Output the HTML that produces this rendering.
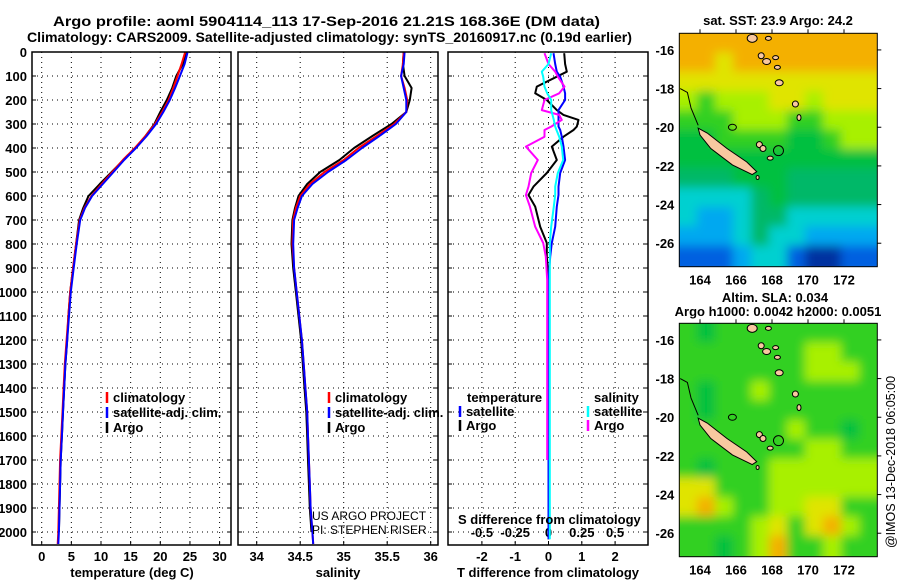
<!DOCTYPE html>
<html><head><meta charset="utf-8">
<style>
html,body{margin:0;padding:0;background:#fff;}
svg{display:block;font-family:"Liberation Sans",sans-serif;}
.b{font-weight:bold;font-size:13px;fill:#000;}
.t{font-weight:bold;font-size:14px;fill:#000;}
</style></head>
<body>
<svg id="chart" width="900" height="580" viewBox="0 0 900 580" xmlns="http://www.w3.org/2000/svg">
<defs><filter id="blur" x="-5%" y="-5%" width="110%" height="110%"><feGaussianBlur stdDeviation="5"/></filter></defs>
<text class="t" x="53" y="26" textLength="547" lengthAdjust="spacingAndGlyphs">Argo profile: aoml 5904114_113 17-Sep-2016 21.21S 168.36E (DM data)</text>
<text class="t" x="27" y="42" textLength="605" lengthAdjust="spacingAndGlyphs">Climatology: CARS2009. Satellite-adjusted climatology: synTS_20160917.nc (0.19d earlier)</text>
<g id="g"></g>
</svg>
<script>
const depths=[0,50,100,150,200,250,300,350,400,450,500,550,600,650,700,800,900,1000,1100,1200,1300,1400,1500,1600,1700,1800,1900,2000,2050];
const tArgo=[24.4,23.8,22.7,22.0,21.1,20.0,19.0,17.5,15.8,13.8,11.8,9.8,7.9,7.0,6.3,5.8,5.3,4.8,4.5,4.3,4.0,3.8,3.6,3.4,3.2,3.1,3.0,2.9,2.8];
const tClim=[24.2,23.6,22.9,22.2,21.4,20.3,19.1,17.5,15.7,13.7,11.9,10.1,8.4,7.2,6.4,5.8,5.3,4.8,4.5,4.2,3.9,3.7,3.5,3.3,3.1,3.0,2.9,2.8,2.7];
const tSat=[24.6,24.1,23.3,22.5,21.6,20.5,19.3,17.7,15.9,13.9,12.1,10.3,8.5,7.3,6.5,5.9,5.4,4.9,4.6,4.3,4.0,3.8,3.6,3.4,3.2,3.1,3.0,2.9,2.8];
const sArgo=[35.69,35.68,35.70,35.78,35.76,35.72,35.55,35.33,35.12,34.95,34.73,34.58,34.48,34.44,34.41,34.40,34.42,34.45,34.48,34.51,34.53,34.55,34.57,34.58,34.59,34.60,34.61,34.63,34.64];
const sClim=[35.69,35.68,35.66,35.70,35.73,35.72,35.58,35.38,35.17,35.00,34.78,34.61,34.50,34.45,34.42,34.41,34.43,34.46,34.49,34.52,34.54,34.56,34.58,34.59,34.60,34.61,34.62,34.64,34.65];
const sSat=[35.70,35.69,35.66,35.69,35.72,35.72,35.60,35.41,35.21,35.03,34.82,34.64,34.52,34.47,34.43,34.42,34.43,34.46,34.49,34.52,34.54,34.56,34.58,34.59,34.60,34.61,34.62,34.64,34.65];
const diffDepths=[5,50,82,103,144,172,200,242,262,283,311,325,353,394,450,504,561,596,644,728,796,853,950,1100,1300,1500,1700,1900,2030];
const dTArgo=[0.47,0.5,0.55,0.25,-0.35,-0.4,-0.05,0.25,0.45,0.9,0.85,0.75,0.45,0.1,0.25,-0.05,-0.45,-0.6,-0.4,-0.25,-0.05,-0.05,0,0,0,-0.02,0,0,0];
const dTSat=[0.15,0.2,0.25,0.35,0.45,0.5,0.5,0.3,0.3,0.3,0.3,0.35,0.4,0.45,0.5,0.35,0.3,0.3,0.25,0.2,0.1,0.05,0,0,0,0,0,0,0];
const dSArgo=[-0.03,0,0.05,0.07,0.12,0.08,-0.03,-0.05,0.08,0.1,0.02,-0.03,-0.03,-0.17,-0.08,-0.13,-0.15,-0.17,-0.14,-0.1,-0.04,-0.02,-0.01,-0.01,-0.01,-0.01,-0.01,null,null];
const dSSat=[0.02,0,-0.05,-0.04,-0.03,-0.01,0.02,0.02,0.03,0.04,0.05,0.06,0.08,0.1,0.11,0.07,0.05,0.05,0.04,0.02,0.01,0.01,0.01,0.01,0.01,0.01,0.01,0.01,0.01];
const depthTicks=[0,100,200,300,400,500,600,700,800,900,1000,1100,1200,1300,1400,1500,1600,1700,1800,1900,2000];
const tempTicks=[0,5,10,15,20,25,30];
const salTicks=[34,34.5,35,35.5,36];
const salTickLabels=["34","34.5","35","35.5","36"];
const tdTicks=[-2,-1,0,1,2];
const sdTicks=[-0.5,-0.25,0,0.25,0.5];
const sdTickLabels=["-0.5","-0.25","0","0.25","0.5"];
const lonTicks=[164,166,168,170,172];
const latTicks=[-16,-18,-20,-22,-24,-26];
const sstGrid=[
[9,9,9,9,9,9,9,9,9,9,9],
[9,9,8,9,9,9,9,9,9,9,9],
[8,8,8,8,8,8,8,8,8,8,8],
[7,6,7,7,7,8,8,7,8,8,8],
[6,6,6,7,7,7,6,6,7,7,7],
[5,5,6,6,6,6,5,5,6,7,7],
[5,5,5,5,5,5,5,5,5,5,5],
[4,4,4,5,5,5,4,4,4,4,4],
[3,3,3,3,4,5,4,4,4,4,4],
[3,2,2,3,4,4,3,3,3,3,3],
[2,2,2,3,4,3,3,2,2,2,2],
[1,1,1,2,3,3,1,0,0,1,1]];
const slaGrid=[
[6,5,6,6,6,6,6,6,6,6,6],
[6,6,6,6,6,6,6,7,7,6,6],
[6,6,6,6,6,6,6,7,7,7,6],
[6,5,6,6,7,6,6,6,6,6,6],
[6,5,6,6,6,6,6,6,6,6,6],
[6,6,6,6,6,6,7,6,6,5,6],
[6,6,6,6,6,6,6,7,7,6,6],
[6,5,6,6,6,7,7,7,7,7,7],
[8,8,6,6,6,7,7,7,7,7,7],
[8,9,7,6,6,7,7,8,8,6,6],
[6,6,6,6,7,8,6,8,9,7,6],
[6,6,5,6,7,9,6,6,7,6,6]];

const palette=["#0030a0","#0060e0","#00a8f0","#00d0d0","#00b868","#00c040","#30d020","#a8f000","#e0e400","#f4b000"];
const NS="http://www.w3.org/2000/svg";
const G=document.getElementById('g');
function mk(tag,at,parent){const e=document.createElementNS(NS,tag);for(const k in at)e.setAttribute(k,at[k]);(parent||G).appendChild(e);return e;}
function txt(s,x,y,at,parent){const e=mk('text',Object.assign({x:x,y:y},at),parent);e.textContent=s;return e;}
const yTop=52,pxPer100=24,yBot=545;
const yD=d=>yTop+d*pxPer100/100;
const xT=v=>41.7+v*5.93;
const xS=v=>256.7+(v-34)*87;
const xTD=v=>548.5+v*33.3;
const xSD=v=>548.5+v*133.2;
const panels=[{x0:32,x1:231,name:'temperature-panel'},{x0:238,x1:438,name:'salinity-panel'},{x0:448,x1:648,name:'difference-panel'}];

panels.forEach((p,i)=>{
  const g=mk('g',{});
  
  
  depthTicks.forEach(d=>{const l=mk('line',{x1:p.x0,x2:p.x1,y1:yD(d),y2:yD(d),stroke:'#000','stroke-width':1,'stroke-dasharray':'1,4'},g);
    
    mk('line',{x1:p.x0,x2:p.x0+4,y1:yD(d),y2:yD(d),stroke:'#000'},g);
    mk('line',{x1:p.x1-4,x2:p.x1,y1:yD(d),y2:yD(d),stroke:'#000'},g);});
  p.g=g;
});
depthTicks.forEach(d=>{const t=txt(String(d),27,yD(d)+5,{class:'b','text-anchor':'end'});
  });
function vgrid(p,ticks,fx,labels,ylab){
  ticks.forEach((v,k)=>{const x=fx(v);
    const l=mk('line',{x1:x,x2:x,y1:yTop,y2:yBot,stroke:'#000','stroke-dasharray':'1,4'},p.g);
    
    mk('line',{x1:x,x2:x,y1:yBot-4,y2:yBot,stroke:'#000'},p.g);
    if(ylab){const t=txt(labels?labels[k]:String(v),x,ylab,{class:'b','text-anchor':'middle'});
      }
  });
}
vgrid(panels[0],tempTicks,xT,null,561);
vgrid(panels[1],salTicks,xS,salTickLabels,561);
vgrid(panels[2],tdTicks,xTD,null,561);
sdTicks.forEach((v,k)=>{const t=txt(sdTickLabels[k],xSD(v),537,{class:'b','text-anchor':'middle'});
  });

function line(vals,dep,fx,color,name,w){
  let d='',pen=false;
  vals.forEach((v,k)=>{if(v===null){pen=false;return;}d+=(pen?'L':'M')+fx(v).toFixed(1)+','+yD(dep[k]).toFixed(1);pen=true;});
  const e=mk('path',{d:d,fill:'none',stroke:color,'stroke-width':w||2,'stroke-linejoin':'round'});
  
}
line(tArgo.slice(0,28),depths,xT,'#000','argo-temperature-line');
line(tClim,depths,xT,'#f00','climatology-temperature-line');
line(tSat,depths,xT,'#00f','satellite-temperature-line');
line(sArgo.slice(0,28),depths,xS,'#000','argo-salinity-line');
line(sClim,depths,xS,'#f00','climatology-salinity-line');
line(sSat,depths,xS,'#00f','satellite-salinity-line');
line(dTArgo,diffDepths,xTD,'#000','argo-temperature-diff-line');
line(dTSat,diffDepths,xTD,'#00f','satellite-temperature-diff-line');
line(dSArgo,diffDepths,xSD,'#f0f','argo-salinity-diff-line');
line(dSSat,diffDepths,xSD,'#0ff','satellite-salinity-diff-line');

panels.forEach(p=>{const r=mk('rect',{x:p.x0,y:yTop,width:p.x1-p.x0,height:yBot-yTop,fill:'none',stroke:'#000','stroke-width':1.5});
  });

function legendRow(x,y,color,label,name){
  const g=mk('g',{});
  mk('line',{x1:x,x2:x,y1:y-10,y2:y+1,stroke:color,'stroke-width':2.5},g);
  txt(label,x+6,y,{class:'b'},g);
}
legendRow(107,402,'#f00','climatology','legend-climatology');
legendRow(107,417,'#00f','satellite-adj. clim.','legend-satellite-adj');
legendRow(107,432,'#000','Argo','legend-argo');
legendRow(329,402,'#f00','climatology','legend-climatology-sal');
legendRow(329,417,'#00f','satellite-adj. clim.','legend-satellite-adj-sal');
legendRow(329,432,'#000','Argo','legend-argo-sal');
txt('temperature',467,402,{class:'b'});
txt('salinity',594,402,{class:'b'});
legendRow(460,416,'#00f','satellite','legend-t-satellite');
legendRow(460,430,'#000','Argo','legend-t-argo');
legendRow(588,416,'#0ff','satellite','legend-s-satellite');
legendRow(588,430,'#f0f','Argo','legend-s-argo');
txt('S difference from climatology',458,524,{class:'b'});
txt('US ARGO PROJECT',312,520,{'font-size':'12px'});
txt('PI: STEPHEN RISER',312,534,{'font-size':'12px'});
[['temperature (deg C)',132],['salinity',338],['T difference from climatology',548]].forEach(a=>{
  const t=txt(a[0],a[1],577,{class:'b','text-anchor':'middle'});});

// maps
const mapX0=679.3,mapX1=877.3,lon0=162.85,pxLon=18,lat0=-15.14,pxLat=19.33;
function drawMap(grid,yTopM,name){
  const g=mk('g',{});
  const mx=lon=>mapX0+(lon-lon0)*pxLon, my=lat=>yTopM+(lat0-lat)*pxLat;
  const h=233.4;
  const cp=mk('clipPath',{id:'c'+name},g);mk('rect',{x:mapX0,y:yTopM,width:mapX1-mapX0,height:h},cp);
  const cg=mk('g',{'clip-path':'url(#c'+name+')'},g);
  const bg=mk('g',{filter:'url(#blur)'},cg);
  grid.forEach((row,r)=>row.forEach((v,c)=>{
    const x=mx(lon0+c),y=my(lat0-r);
    const w=pxLon+0.6+(c===row.length-1?10:0)+(c===0?10:0), hh=pxLat+0.6+(r===grid.length-1?10:0)+(r===0?10:0);
    const e=mk('rect',{x:(c===0?x-10:x)-0.3,y:(r===0?y-10:y)-0.3,width:w,height:hh,fill:palette[v]},bg);
    
  }));
  const P=pts=>pts.map(p=>mx(p[0]).toFixed(1)+','+my(p[1]).toFixed(1)).join(' ');
  mk('polygon',{points:P([[163.9,-20.05],[164.4,-20.3],[165.5,-21.1],[166.6,-21.8],[167.15,-22.3],[166.9,-22.45],[165.8,-21.95],[164.6,-21.1],[164.0,-20.4]]),fill:'#f8c8a0',stroke:'#000','stroke-width':1},cg);
  [[166.9,-15.4,5,4],[167.8,-15.4,3,2],[167.4,-16.3,3,3],[167.7,-16.6,4,3],[168.2,-16.4,3,2],[168.3,-16.9,3,2],[168.4,-17.7,4,3],[169.3,-18.8,3,3],[169.5,-19.5,2,3],[167.3,-20.9,3,3],[167.5,-21.1,3,3],[167.9,-21.6,3,2],[167.2,-22.6,1.5,2]].forEach(a=>{
    mk('ellipse',{cx:mx(a[0]),cy:my(a[1]),rx:a[2],ry:a[3],fill:'#f8c8a0',stroke:'#000','stroke-width':1},cg);});
  mk('path',{d:'M'+mx(162.9)+','+my(-18.0)+' L'+mx(163.3)+','+my(-18.2)+' L'+mx(163.5)+','+my(-19.0)+' L'+mx(163.9)+','+my(-19.9),fill:'none',stroke:'#000'},cg);
  mk('ellipse',{cx:mx(165.8),cy:my(-20.0),rx:4,ry:3,fill:'none',stroke:'#000'},cg);
  const pos=mk('circle',{cx:mx(168.36),cy:my(-21.21),r:5,fill:'none',stroke:'#000','stroke-width':1},cg);
  
  mk('rect',{x:mapX0,y:yTopM,width:mapX1-mapX0,height:h,fill:'none',stroke:'#000'},g);
  lonTicks.forEach(l=>{mk('line',{x1:mx(l),x2:mx(l),y1:yTopM-4,y2:yTopM,stroke:'#000'},g);
    const t=txt(String(l),mx(l),yTopM+h+18,{class:'b','text-anchor':'middle','font-size':'14px'},g);
    });
  latTicks.forEach(l=>{mk('line',{x1:mapX1,x2:mapX1+4,y1:my(l),y2:my(l),stroke:'#000'},g);
    const t=txt(String(l),mapX0-5,my(l)+5,{class:'b','font-size':'13px','text-anchor':'end'},g);
    });
}
drawMap(sstGrid,33.3,'sst-map');
drawMap(slaGrid,323.3,'sla-map');
txt('sat. SST: 23.9 Argo: 24.2',778,25,{class:'b','text-anchor':'middle'});
txt('Altim. SLA: 0.034',775,302,{class:'b','text-anchor':'middle'});
txt('Argo h1000: 0.0042 h2000: 0.0051',778,316,{class:'b','text-anchor':'middle'});
txt('@IMOS 13-Dec-2018 06:05:00',0,0,{'font-size':'13px',transform:'translate(895,462) rotate(-90)','text-anchor':'middle',textLength:'172',lengthAdjust:'spacingAndGlyphs'});
</script>
</body></html>
